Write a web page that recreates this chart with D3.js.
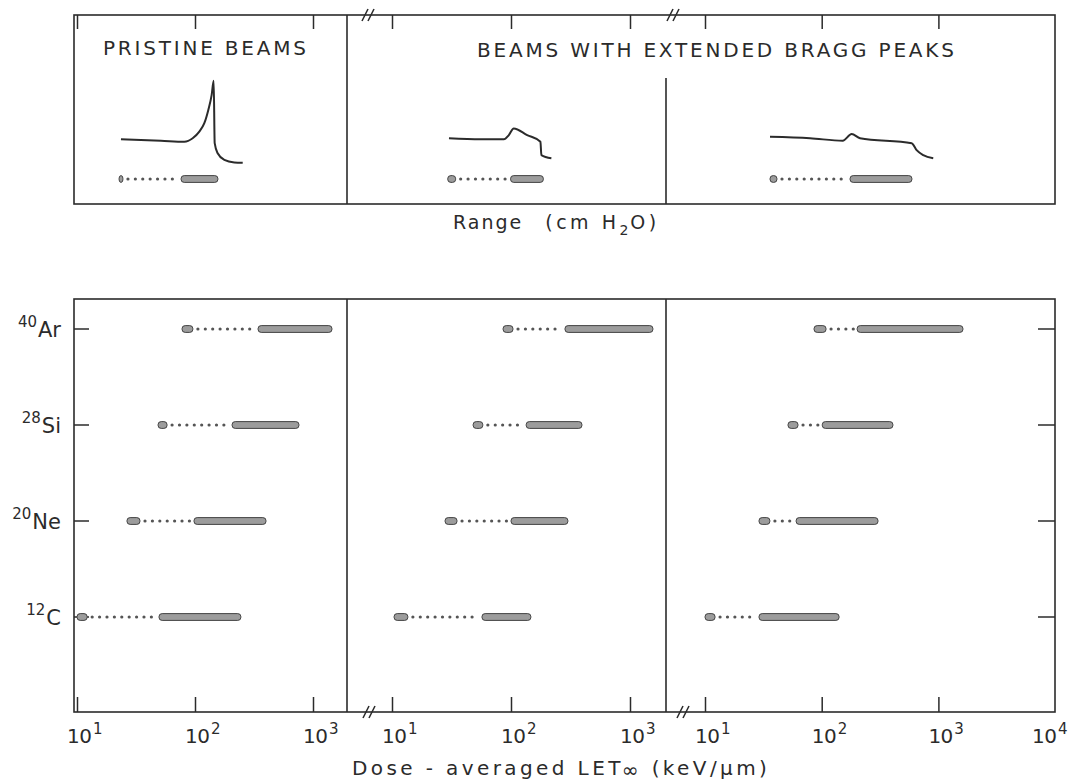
<!DOCTYPE html>
<html>
<head>
<meta charset="utf-8">
<script src="https://cdn.jsdelivr.net/npm/d3@7"></script>
<style>
body { margin: 0; background: #fff; }
text { font-family: "DejaVu Sans", sans-serif; fill: #2b2b2b; }
</style>
</head>
<body>
<div id="chart"></div>
<script>
// ions, bottom row first
var ions = ["12C", "20Ne", "28Si", "40Ar"];
var ionMass = ["12", "20", "28", "40"];
var ionName = ["C", "Ne", "Si", "Ar"];

// dose-averaged LET (keV/um): plateau part and peak part of each beam
var pristinePlateau = [[10, 12.2], [26.5, 34.2], [48.6, 58], [77.6, 96]];
var pristinePeak    = [[49.5, 245], [98, 400], [206, 761], [342, 1449]];
var ext1Plateau     = [[10.4, 13.6], [27.9, 35.2], [48, 58], [85.7, 104]];
var ext1Peak        = [[57, 147], [100, 301], [134, 395], [284, 1560]];
var ext2Plateau     = [[10, 12.2], [29, 36], [51.4, 62.7], [85.9, 109]];
var ext2Peak        = [[29, 141], [60.3, 304], [101, 408], [201, 1625]];

var tickValues = [[10, 100, 1000], [10, 100, 1000], [10, 100, 1000, 10000]];
var tickExp    = [["1", "2", "3"], ["1", "2", "3"], ["1", "2", "3", "4"]];

// depth-dose curves, depth in cm H2O, dose relative to plateau
var pristineDepth = [5.16, 9.56, 12.12, 13.04, 13.77, 14.32, 14.76, 15.13, 15.35, 15.46, 15.79, 16.52, 17.62, 18.54];
var pristineDose  = [1.02, 0.98, 0.95, 1.05, 1.24, 1.48, 1.86, 2.29, 2.69, 0.91, 0.62, 0.43, 0.36, 0.35];
var ext1Depth = [9.59, 12.56, 14.75, 15.22, 15.68, 16.94, 18.19, 18.28, 19.22];
var ext1Dose  = [1.05, 1.02, 1.02, 1.14, 1.33, 1.14, 0.95, 0.57, 0.48];
var ext2Depth = [8.02, 11.11, 13.63, 14.32, 14.96, 18.95, 19.33, 19.84, 20.61];
var ext2Dose  = [1.09, 1.05, 0.98, 1.17, 1.05, 0.91, 0.71, 0.57, 0.48];

// depth of plateau and peak part of each curve
var rangePlateau = [[4.95, 5.38], [9.47, 10.22], [8.02, 8.56]];
var rangePeak    = [[11.76, 15.82], [15.38, 18.47], [14.19, 18.97]];

var W = 1075, H = 784;
var left = 74, right = 1055;
var panelX = [[74, 347], [347, 666], [666, 1055]];
var x10 = [77, 392, 705];          // pixel of 10 keV/um in each panel
var decade = [118, 119, 116.7];    // pixels per decade
var topY0 = 15, topY1 = 204;
var botY0 = 299, botY1 = 712;

var ink = "#2b2b2b";

var svg = d3.select("#chart").append("svg")
    .attr("width", W).attr("height", H);

var letX = panelX.map(function(p, i) {
    return d3.scaleLog().domain([10, 1000]).range([x10[i], x10[i] + 2 * decade[i]]);
});
var depthX = panelX.map(function(p) {
    return d3.scaleLinear().domain([0, 30]).range(p);
});
var doseY = d3.scaleLinear().domain([0, 1]).range([175, 140]);
var ionY = d3.scalePoint().domain(ions).range([617, 329]);

// frames
[[topY0, topY1], [botY0, botY1]].forEach(function(f) {
    svg.append("rect")
        .attr("x", left).attr("y", f[0])
        .attr("width", right - left).attr("height", f[1] - f[0])
        .attr("fill", "none").attr("stroke", ink).attr("stroke-width", 1.6);
});

// panel dividers
svg.append("line").attr("x1", panelX[0][1]).attr("x2", panelX[0][1])
    .attr("y1", topY0).attr("y2", topY1).attr("stroke", ink).attr("stroke-width", 1.6);
svg.append("line").attr("x1", panelX[1][1]).attr("x2", panelX[1][1])
    .attr("y1", 78).attr("y2", topY1).attr("stroke", ink).attr("stroke-width", 1.6);
[0, 1].forEach(function(i) {
    svg.append("line").attr("x1", panelX[i][1]).attr("x2", panelX[i][1])
        .attr("y1", botY0).attr("y2", botY1).attr("stroke", ink).attr("stroke-width", 1.6);
});

// axis breaks
function brk(x, y) {
    [-3, 3].forEach(function(o) {
        svg.append("line")
            .attr("x1", x + o - 3).attr("y1", y + 6)
            .attr("x2", x + o + 3).attr("y2", y - 6)
            .attr("stroke", ink).attr("stroke-width", 1.5);
    });
}
brk(369, botY1); brk(683, botY1);
brk(368, topY0); brk(673, topY0);

// ticks on top and bottom edges
letX.forEach(function(s, i) {
    var vals = tickValues[i].filter(function(v) {
        var px = s(v);
        return px > panelX[i][0] + 2 && px < panelX[i][1] - 2;
    });
    var gb = svg.append("g").attr("transform", "translate(0," + botY1 + ")")
        .call(d3.axisTop(s).tickValues(vals).tickSize(15).tickFormat(""));
    gb.select(".domain").remove();
    gb.selectAll("line").attr("stroke", ink).attr("stroke-width", 1.5);
    var gt = svg.append("g").attr("transform", "translate(0," + topY0 + ")")
        .call(d3.axisBottom(s).tickValues(vals).tickSize(14).tickFormat(""));
    gt.select(".domain").remove();
    gt.selectAll("line").attr("stroke", ink).attr("stroke-width", 1.5);

    // tick labels 10^n, pulled in at the right edge
    tickValues[i].forEach(function(v, j) {
        var shift = s(v) > right - 5 ? -13 : 0;
        var t = svg.append("text")
            .attr("x", s(v) - 10 + shift).attr("y", 743)
            .style("font-size", "20px").style("letter-spacing", "-0.5px");
        t.append("tspan").text("10");
        t.append("tspan").text(tickExp[i][j])
            .style("font-size", "15px").attr("dy", -9).attr("dx", 1.5);
    });
});

// ion ticks both sides
ions.forEach(function(ion) {
    var y = ionY(ion);
    svg.append("line").attr("x1", left).attr("x2", left + 15)
        .attr("y1", y).attr("y2", y).attr("stroke", ink).attr("stroke-width", 1.5);
    svg.append("line").attr("x1", right - 17).attr("x2", right)
        .attr("y1", y).attr("y2", y).attr("stroke", ink).attr("stroke-width", 1.5);
});

// ion labels
ions.forEach(function(ion, i) {
    var t = svg.append("text")
        .attr("x", 61).attr("y", ionY(ion) + 8)
        .attr("text-anchor", "end");
    t.append("tspan").text(ionMass[i]).style("font-size", "15px").attr("dy", -10);
    t.append("tspan").text(ionName[i]).style("font-size", "21px").attr("dy", 10).attr("dx", 1);
});

function drawBeam(g, s, y, plateau, peak) {
    g.append("line")
        .attr("x1", s(plateau[1]) + 5).attr("x2", s(peak[0]) - 3)
        .attr("y1", y).attr("y2", y)
        .attr("stroke", "#555").attr("stroke-width", 3.2)
        .attr("stroke-linecap", "round").attr("stroke-dasharray", "0 7.4");
    [plateau, peak].forEach(function(r) {
        g.append("rect")
            .attr("x", s(r[0])).attr("y", y - 3.4)
            .attr("width", Math.max(3, s(r[1]) - s(r[0]))).attr("height", 6.8)
            .attr("rx", 3.2)
            .attr("fill", "#9c9c9c").attr("stroke", "#444").attr("stroke-width", 1);
    });
}

// bottom panel beams
var plateaus = [pristinePlateau, ext1Plateau, ext2Plateau];
var peaks = [pristinePeak, ext1Peak, ext2Peak];
var gb = svg.append("g");
[0, 1, 2].forEach(function(p) {
    ions.forEach(function(ion, i) {
        drawBeam(gb, letX[p], ionY(ion), plateaus[p][i], peaks[p][i]);
    });
});

// top panel depth-dose curves and beams
var depths = [pristineDepth, ext1Depth, ext2Depth];
var doses = [pristineDose, ext1Dose, ext2Dose];
var gt = svg.append("g");
[0, 1, 2].forEach(function(p) {
    var pts = depths[p].map(function(d, k) { return [d, doses[p][k]]; });
    var line = d3.line()
        .x(function(d) { return depthX[p](d[0]); })
        .y(function(d) { return doseY(d[1]); })
        .curve(d3.curveMonotoneX);
    gt.append("path").datum(pts).attr("d", line)
        .attr("fill", "none").attr("stroke", ink).attr("stroke-width", 2)
        .attr("stroke-linejoin", "round");
    drawBeam(gt, depthX[p], 179, rangePlateau[p], rangePeak[p]);
});

// titles
svg.append("text").attr("x", 103).attr("y", 55)
    .style("font-size", "20px").style("letter-spacing", "2.8px")
    .text("PRISTINE BEAMS");
svg.append("text").attr("x", 477).attr("y", 57)
    .style("font-size", "20px").style("letter-spacing", "2.8px")
    .text("BEAMS WITH EXTENDED BRAGG PEAKS");

var rt = svg.append("text").attr("x", 453).attr("y", 229)
    .style("font-size", "19px").style("letter-spacing", "2px");
rt.append("tspan").text("Range");
rt.append("tspan").text("(cm H").attr("dx", 22).style("letter-spacing", "3.5px");
rt.append("tspan").text("2").style("font-size", "14px").attr("dy", 6);
rt.append("tspan").text("O)").attr("dy", -6).style("letter-spacing", "3.5px");

var xt = svg.append("text").attr("x", 352).attr("y", 775)
    .style("font-size", "20px").style("letter-spacing", "3.4px");
xt.append("tspan").text("Dose - averaged LET");
xt.append("tspan").text("\u221E").style("font-size", "20px").attr("dy", 2).attr("dx", -2);
xt.append("tspan").text(" (keV/\u03BCm)").attr("dy", -2);
</script>
</body>
</html>
